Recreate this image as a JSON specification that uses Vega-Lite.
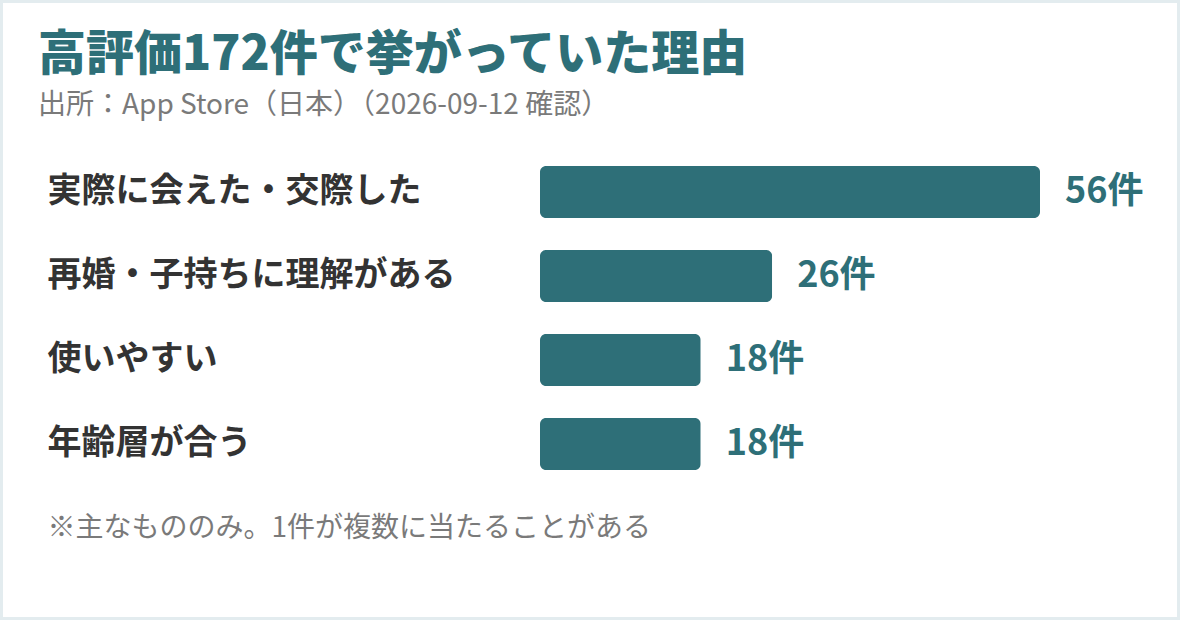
{
  "$schema": "https://vega.github.io/schema/vega-lite/v6.json",
  "width": 1180,
  "height": 620,
  "autosize": "none",
  "padding": 0,
  "background": "white",
  "title": {
    "text": "高評価172件で挙がっていた理由",
    "subtitle": "出所：App Store（日本）（2026-09-12 確認）",
    "anchor": "start",
    "frame": "group",
    "dx": 38,
    "offset": -120
  },
  "data": {
    "values": [
      {"reason": "実際に会えた・交際した", "count": 56, "label": "56件"},
      {"reason": "再婚・子持ちに理解がある", "count": 26, "label": "26件"},
      {"reason": "使いやすい", "count": 18, "label": "18件"},
      {"reason": "年齢層が合う", "count": 18, "label": "18件"}
    ]
  },
  "encoding": {
    "y": {
      "field": "reason",
      "type": "nominal",
      "sort": null,
      "scale": {"range": [150, 486], "paddingInner": 0.381, "paddingOuter": 0.19},
      "axis": {
        "title": null,
        "orient": "left",
        "domain": false,
        "ticks": false,
        "labelAlign": "left",
        "labelBaseline": "middle",
        "labelPadding": -47,
        "labelFontSize": 34,
        "labelFontWeight": "bold",
        "labelColor": "#333333",
        "labelFont": "Noto Sans CJK JP",
        "labelLimit": 0
      }
    },
    "x": {
      "field": "count",
      "type": "quantitative",
      "scale": {"domain": [0, 56], "range": [540, 1040]},
      "axis": {
        "orient": "bottom",
        "labels": false,
        "ticks": false,
        "domain": false,
        "grid": false,
        "title": "※主なもののみ。1件が複数に当たることがある",
        "titleAnchor": "start",
        "titleAlign": "left",
        "titleX": 47,
        "titleY": -92,
        "titleBaseline": "middle",
        "titleFont": "Noto Sans CJK JP",
        "titleFontSize": 28,
        "titleFontWeight": "normal",
        "titleColor": "#7a7a7a"
      }
    }
  },
  "layer": [
    {
      "mark": {"type": "bar", "color": "#2e6f78", "cornerRadius": 6}
    },
    {
      "mark": {
        "type": "text",
        "align": "left",
        "baseline": "middle",
        "dx": 25,
        "font": "Noto Sans CJK JP",
        "fontSize": 36,
        "fontWeight": "bold",
        "color": "#2e6f78"
      },
      "encoding": {"text": {"field": "label", "type": "nominal"}}
    }
  ],
  "config": {
    "view": {"stroke": "#e3ecef", "strokeWidth": 6},
    "title": {
      "font": "Noto Sans CJK JP",
      "fontSize": 48,
      "fontWeight": 900,
      "color": "#2e6f78",
      "subtitleFont": "Noto Sans CJK JP",
      "subtitleFontSize": 28,
      "subtitleColor": "#7a7a7a",
      "subtitlePadding": 12
    }
  }
}
